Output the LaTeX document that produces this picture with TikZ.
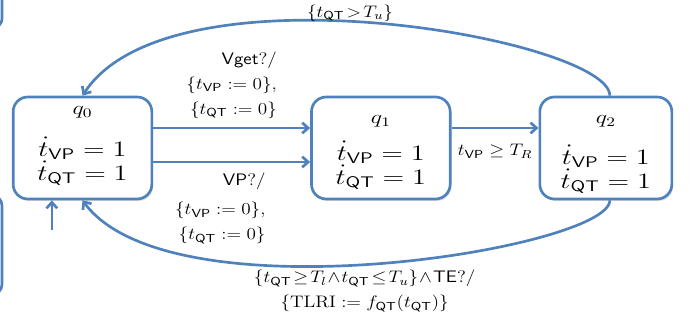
\RequirePackage{fix-cm}
\documentclass[tikz,border=0pt]{standalone}
\usepackage{amsmath,amssymb}
\usepackage{graphicx}
\usepackage{tikz}
\usetikzlibrary{positioning}
\usetikzlibrary{arrows.meta}
\usetikzlibrary{shadows}

\definecolor{stateblue}{RGB}{79,129,189}
\newcommand{\wide}[1]{\scalebox{1.29}[1]{#1}}
\newcommand{\guard}[1]{\scalebox{1.15}[1]{#1}}
\newcommand{\flows}{\wide{$\dot{t}_{\mathsf{VP}} = 1$}\\ \wide{$\dot{t}_{\mathsf{QT}} = 1$}}

\begin{document}
\begin{tikzpicture}[
    x=0.75pt, y=0.75pt,
    statenode/.style={rectangle, rounded corners=11pt, draw=stateblue, line width=2pt, fill=white,
        minimum width=104pt, minimum height=76.5pt,
        drop shadow={shadow xshift=1pt, shadow yshift=-1.5pt, opacity=0.25}},
    namenode/.style={inner sep=0pt, font=\fontsize{14}{16}\selectfont},
    flownode/.style={align=center, inner sep=0pt, font=\fontsize{16.5}{18}\selectfont},
    guardnode/.style={align=right, font=\fontsize{12.5}{18.75}\selectfont},
    trans/.style={draw=stateblue, line width=2pt, -{Straight Barb[length=4.5pt, width=8pt]}},
    ]

    \useasboundingbox (0,0) rectangle (697,320);

    %Nodes
    \node[statenode] (q0) at (82.5,172) {};
    \node[statenode] (q1) [right=117.75pt of q0] {};
    \node[statenode, minimum width=99pt] (q2) [right=65.25pt of q1] {};

    \node[namenode] (q0name) [below=8pt of q0.north] {\wide{$q_0$}};
    \node[namenode] (q1name) [below=15pt of q1.north] {\wide{$q_1$}};
    \node[namenode] (q2name) [below=15pt of q2.north] {\wide{$q_2$}};

    \node[flownode] (q0flow) at ([yshift=-10pt]q0.center) {\flows};
    \node[flownode] (q1flow) at ([yshift=-13pt]q1.center) {\flows};
    \node[flownode] (q2flow) at ([yshift=-16pt]q2.center) {\flows};

    \coordinate (init) at ([xshift=-23pt, yshift=-22pt]q0.south);

    %Lines
    \draw[trans] ([yshift=15pt]q0.east) -- ([yshift=15pt]q1.west)
        node[guardnode, midway, above=3pt] {\guard{$\mathsf{Vget}?/$}\\ \guard{$\{t_{\mathsf{VP}} := 0\}$,}\\ \guard{$\{t_{\mathsf{QT}} := 0\}$}};
    \draw[trans] ([yshift=-10.5pt]q0.east) -- ([yshift=-10.5pt]q1.west)
        node[guardnode, midway, below=4pt, xshift=-8.5pt] {\guard{$\mathsf{VP}?/$}\\[3pt] \guard{$\{t_{\mathsf{VP}} := 0\}$,}\\ \guard{$\{t_{\mathsf{QT}} := 0\}$}};
    \draw[trans] ([yshift=15pt]q1.east) -- ([yshift=15pt]q2.west)
        node[guardnode, midway, below=8pt] {\guard{$t_{\mathsf{VP}} \geq T_R$}};

    \draw[trans] ([xshift=3pt]q2.north) .. controls +(0,42pt) and +(66pt,102pt) .. (q0.north)
        node[guardnode, pos=0.54, above=-4pt] {\guard{$\{t_{\mathsf{QT}}\!>\!T_u\}$}};
    \draw[trans] ([xshift=3pt]q2.south) .. controls +(0,-36pt) and +(66pt,-90pt) .. (q0.south)
        node[guardnode, align=center, pos=0.52, below=0pt] {\guard{$\{t_{\mathsf{QT}}\!\geq\!T_l\!\wedge\!t_{\mathsf{QT}}\!\leq\!T_u\}\!\wedge\!\mathsf{TE}?/$}\\ \guard{$\{\mathrm{TLRI} := f_{\mathsf{QT}}(t_{\mathsf{QT}})\}$}};
    \draw[trans] (init) -- ([xshift=-23pt]q0.south);

    %Boxes cut off at the left border
    \draw[draw=stateblue, line width=2pt, rounded corners=6pt] (-60,293) rectangle (2,360);
    \draw[draw=stateblue, line width=2pt, rounded corners=8pt] (-60,25) rectangle (2,125);

\end{tikzpicture}
\end{document}
